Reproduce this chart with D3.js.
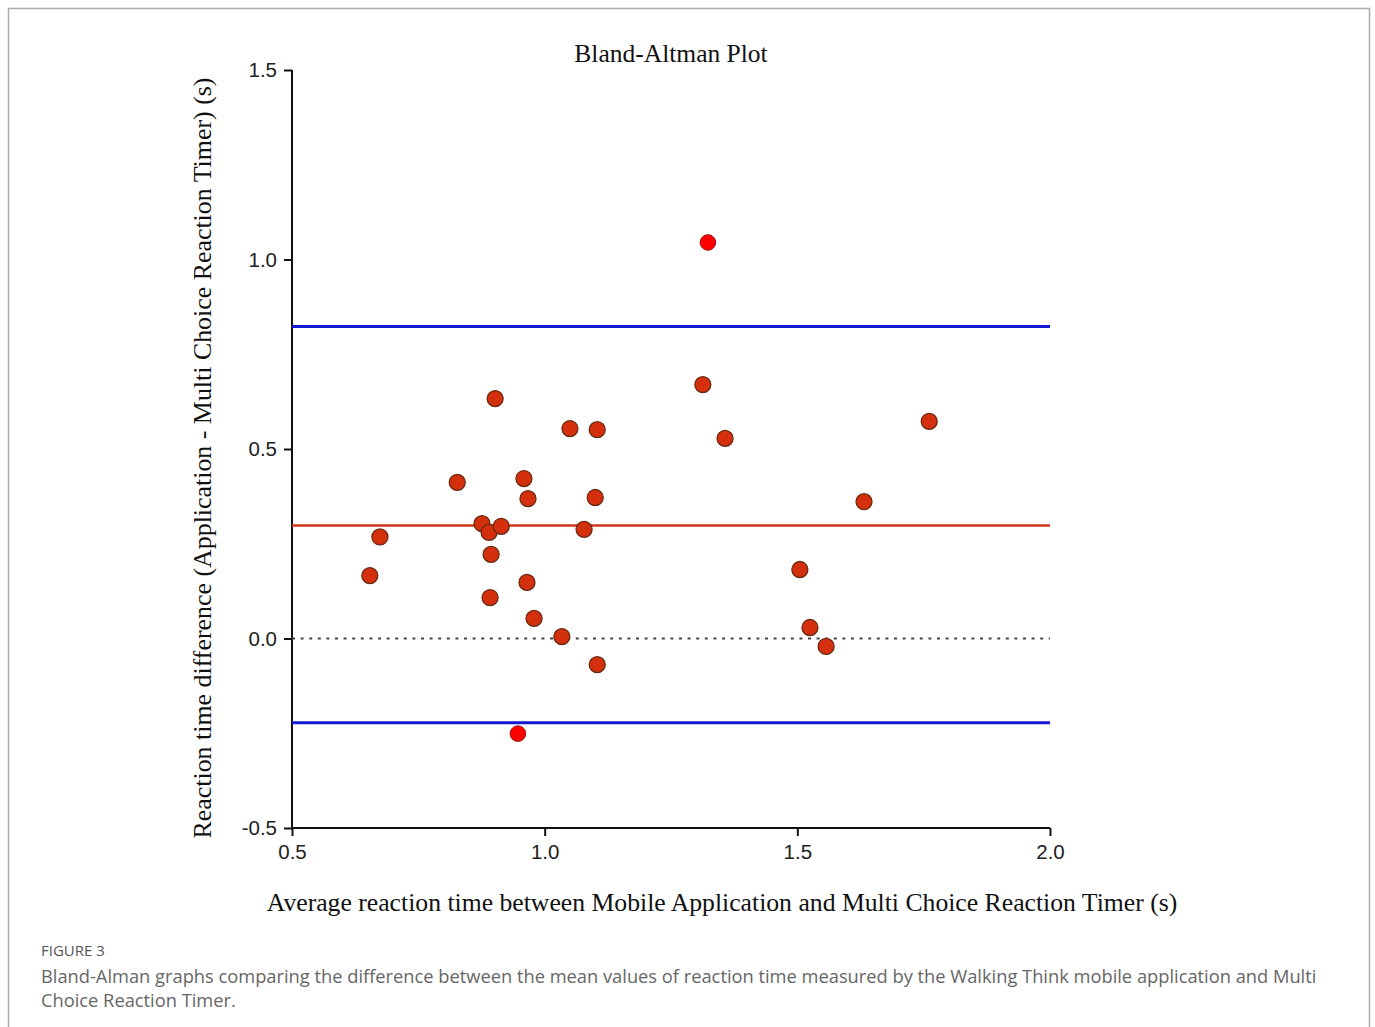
<!DOCTYPE html>
<html>
<head>
<meta charset="utf-8">
<script src="https://cdn.jsdelivr.net/npm/d3@7"></script>
<style>
  html, body { margin: 0; padding: 0; background: #fff; }
  svg { display: block; }
</style>
</head>
<body>
<svg id="chart" width="1375" height="1027"></svg>
<script>
// ---- data ----
const meanValues = [0.654, 0.674, 0.827, 0.876, 0.890, 0.914, 0.894, 0.892, 0.902, 0.959,
                    0.967, 0.965, 0.979, 1.034, 1.050, 1.104, 1.100, 1.078, 1.104, 1.313,
                    1.357, 1.761, 1.632, 1.505, 1.525, 1.557];
const diffValues = [0.166, 0.268, 0.412, 0.303, 0.280, 0.296, 0.222, 0.108, 0.633, 0.422,
                    0.369, 0.148, 0.053, 0.005, 0.554, 0.551, 0.372, 0.288, -0.069, 0.670,
                    0.528, 0.573, 0.361, 0.182, 0.029, -0.021];
const outlierMeans = [1.323, 0.947];
const outlierDiffs = [1.045, -0.251];
const meanDiff = 0.298;
const upperLoA = 0.823;
const lowerLoA = -0.222;
const xTicks = [0.5, 1.0, 1.5, 2.0];
const yTicks = [-0.5, 0.0, 0.5, 1.0, 1.5];

const svg = d3.select("#chart");

// figure frame
svg.append("path")
  .attr("d", "M8.5,1027 V8.5 H1369.5 V1027")
  .attr("fill", "none").attr("stroke", "#ababab").attr("stroke-width", 1.5);

const x = d3.scaleLinear().domain([0.5, 2.0]).range([292, 1050]);
const y = d3.scaleLinear().domain([-0.5, 1.5]).range([828, 70]);
const fmt = v => d3.format(".1f")(v).replace("\u2212", "-");

// axes
const xAxis = svg.append("g").attr("transform", "translate(0,828)")
  .call(d3.axisBottom(x).tickValues(xTicks).tickFormat(fmt).tickSizeOuter(0).tickSize(8).tickPadding(8));
const yAxis = svg.append("g").attr("transform", "translate(292,0)")
  .call(d3.axisLeft(y).tickValues(yTicks).tickFormat(fmt).tickSizeOuter(0).tickSize(8).tickPadding(7));
[xAxis, yAxis].forEach(g => {
  g.select(".domain").attr("stroke", "#111").attr("stroke-width", 2);
  g.selectAll(".tick line").attr("stroke", "#111").attr("stroke-width", 2);
  g.selectAll(".tick text").attr("fill", "#222")
    .style("font-family", "'Liberation Sans', Arial, sans-serif").style("font-size", "20.5px");
});
yAxis.select(".domain").attr("d", "M0,70V828");
xAxis.select(".domain").attr("d", "M292,0H1050");

// reference lines
const refs = [
  {v: upperLoA, color: "#1418d2", w: 3, dash: null},
  {v: meanDiff, color: "#d2361a", w: 2.6, dash: null},
  {v: lowerLoA, color: "#1418d2", w: 3, dash: null},
  {v: 0, color: "#444", w: 2, dash: "3,5.6"}
];
svg.append("g").selectAll("line").data(refs).join("line")
  .attr("x1", x(0.5)).attr("x2", x(2.0))
  .attr("y1", d => y(d.v)).attr("y2", d => y(d.v))
  .attr("stroke", d => d.color).attr("stroke-width", d => d.w)
  .attr("stroke-dasharray", d => d.dash);

// points
const pts = meanValues.map((m, i) => ({m, d: diffValues[i]}));
svg.append("g").selectAll("circle").data(pts).join("circle")
  .attr("cx", p => x(p.m)).attr("cy", p => y(p.d)).attr("r", 8)
  .attr("fill", "#d4300e").attr("stroke", "#6a2a12").attr("stroke-width", 1.3);

const outs = outlierMeans.map((m, i) => ({m, d: outlierDiffs[i]}));
svg.append("g").selectAll("circle").data(outs).join("circle")
  .attr("cx", p => x(p.m)).attr("cy", p => y(p.d)).attr("r", 7.8)
  .attr("fill", "#ff0000").attr("stroke", "#a01010").attr("stroke-width", 1);

// titles
const serif = "'Liberation Serif', 'Times New Roman', serif";
svg.append("text").attr("x", 671).attr("y", 62).attr("text-anchor", "middle")
  .style("font-family", serif).style("font-size", "25.5px").attr("fill", "#111")
  .text("Bland-Altman Plot");
svg.append("text").attr("x", 722).attr("y", 911).attr("text-anchor", "middle")
  .style("font-family", serif).style("font-size", "25.7px").attr("fill", "#111")
  .text("Average reaction time between Mobile Application and Multi Choice Reaction Timer (s)");
svg.append("text").attr("transform", "translate(211,458) rotate(-90)").attr("text-anchor", "middle")
  .style("font-family", serif).style("font-size", "25.9px").attr("fill", "#111")
  .text("Reaction time difference (Application - Multi Choice Reaction Timer) (s)");

// caption
const capFont = "'Open Sans', Lato, sans-serif";
svg.append("text").attr("x", 41).attr("y", 956)
  .style("font-family", capFont).style("font-size", "15px").attr("fill", "#555")
  .text("FIGURE 3");
svg.append("text").attr("x", 41).attr("y", 983)
  .style("font-family", capFont).style("font-size", "18.3px").attr("fill", "#666")
  .text("Bland-Alman graphs comparing the difference between the mean values of reaction time measured by the Walking Think mobile application and Multi");
svg.append("text").attr("x", 41).attr("y", 1007)
  .style("font-family", capFont).style("font-size", "18.3px").attr("fill", "#666")
  .text("Choice Reaction Timer.");
</script>
</body>
</html>
